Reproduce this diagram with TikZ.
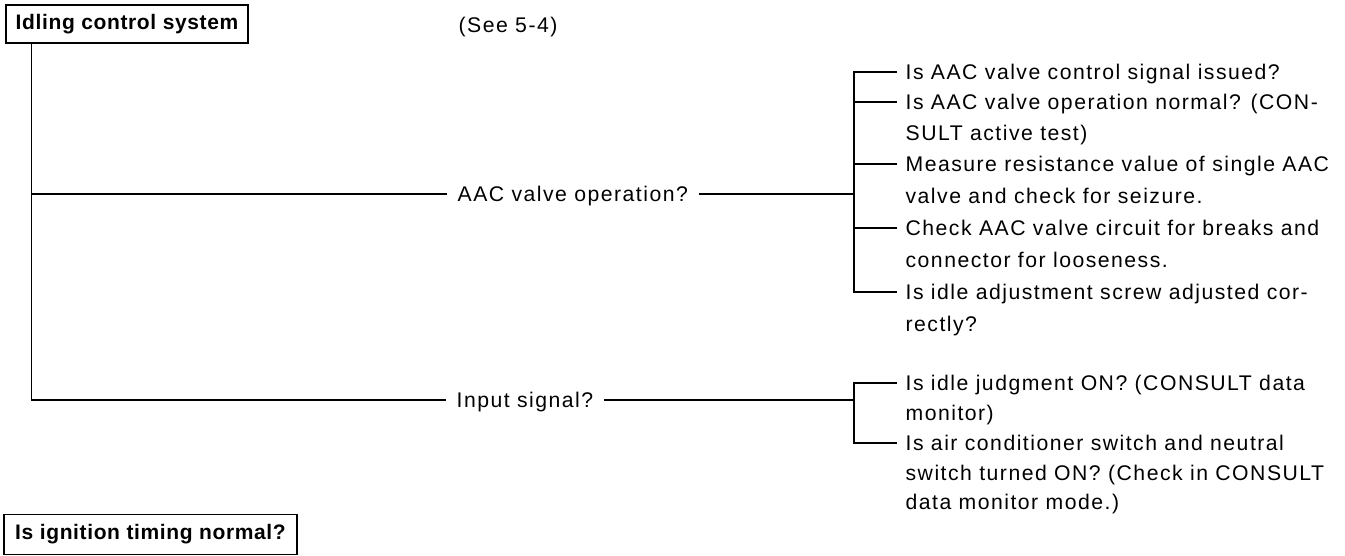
\documentclass[tikz,border=0pt]{standalone}
\usepackage{fontspec}
\setmainfont{Liberation Sans}[LetterSpace=7]
\newfontfamily\boxfont{Liberation Sans}[LetterSpace=3]
\usepackage{tikz}

\begin{document}
\begin{tikzpicture}[x=0.5pt,y=0.5pt,line width=0.65pt,
  txt/.style={anchor=west,inner xsep=4pt,inner ysep=0pt,text height=9.4pt,text depth=2pt,font=\fontsize{10.6}{12}\selectfont},
  hdr/.style={draw,line width=0.75pt,inner sep=0pt,font=\boxfont\bfseries\fontsize{10.5}{12}\selectfont}]
\useasboundingbox (0,0) rectangle (1345,-556);
\node[hdr,minimum width=121pt,minimum height=19pt] (idle) at (127,-24) {Idling control system};
\node[txt] (see) at (450,-25) {(See 5-4)};
\coordinate (trunk) at ([xshift=13pt]idle.south west);
\node[txt,inner xsep=5pt] (aac) at (447,-194) {AAC valve operation?};
\node[txt,inner xsep=5pt] (inp) at (446,-400) {Input signal?};
\coordinate (j1) at (854,-194);
\coordinate (j2) at (854,-400);
\draw (trunk) |- (aac.west);
\draw (trunk) |- (inp.west);
\draw (aac.east) -- (j1);
\draw (inp.east) -- (j2);
\node[txt] (a1) at (897,-72) {Is AAC valve control signal issued?};
\node[txt] (a2) at (897,-102) {Is AAC valve operation normal? (CON-};
\node[txt] (a2b) at (897,-133) {SULT active test)};
\node[txt] (a3) at (897,-164) {Measure resistance value of single AAC};
\node[txt] (a3b) at (897,-196) {valve and check for seizure.};
\node[txt] (a4) at (897,-228) {Check AAC valve circuit for breaks and};
\node[txt] (a4b) at (897,-260) {connector for looseness.};
\node[txt] (a5) at (897,-292) {Is idle adjustment screw adjusted cor-};
\node[txt] (a5b) at (897,-324) {rectly?};
\draw (a1.west) -| (j1) |- (a5.west);
\draw (a2.west) -- (a2.west -| j1);
\draw (a3.west) -- (a3.west -| j1);
\draw (a4.west) -- (a4.west -| j1);
\node[txt] (b1) at (897,-383) {Is idle judgment ON? (CONSULT data};
\node[txt] (b1b) at (897,-413) {monitor)};
\node[txt] (b2) at (897,-443) {Is air conditioner switch and neutral};
\node[txt] (b2b) at (897,-473) {switch turned ON? (Check in CONSULT};
\node[txt] (b2c) at (897,-502) {data monitor mode.)};
\draw (b1.west) -| (j2) |- (b2.west);
\node[hdr,minimum width=146.5pt,minimum height=20pt] (ign) at (150.5,-534.5) {Is ignition timing normal?};
\end{tikzpicture}
\end{document}
